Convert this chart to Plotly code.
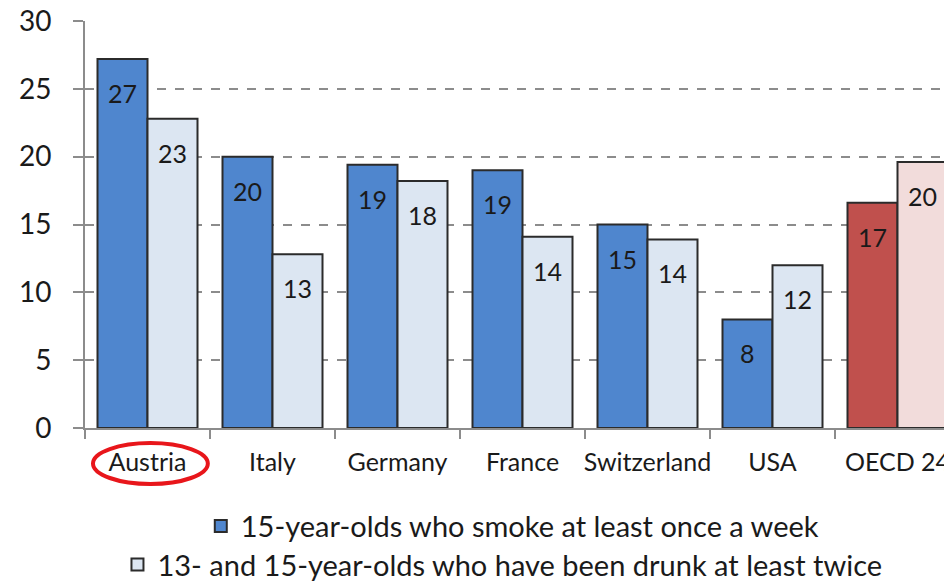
import plotly.graph_objects as go

categories = ["Austria", "Italy", "Germany", "France", "Switzerland", "USA", "OECD 24"]
smoke = [27.2, 20.0, 19.4, 19.0, 15.0, 8.0, 16.6]
drunk = [22.8, 12.8, 18.2, 14.1, 13.9, 12.0, 19.6]
smoke_name = "15-year-olds who smoke at least once a week"
drunk_name = "13- and 15-year-olds who have been drunk at least twice"
y_ticks = [0, 5, 10, 15, 20, 25, 30]

blue, light = "#4F86CE", "#DCE6F2"
red, pink = "#C0504D", "#F2DCDB"
smoke_colors = [blue] * 6 + [red]
drunk_colors = [light] * 6 + [pink]
outline = dict(color="#2b2b2b", width=2)
FONT = "Lato"
TXT = "#1a1a1a"

fig = go.Figure()
fig.add_bar(x=categories, y=smoke, name=smoke_name, legend="legend", showlegend=True,
            marker=dict(color=smoke_colors, line=outline))
fig.add_bar(x=categories, y=drunk, name=drunk_name, legend="legend2", showlegend=True,
            marker=dict(color=drunk_colors, line=outline))

for series, shift in ((smoke, -25), (drunk, 25)):
    for c, v in zip(categories, series):
        fig.add_annotation(x=c, y=v, xref="x", yref="y", text=f"{round(v)}",
                           showarrow=False, xshift=shift, yshift=-34,
                           yanchor="middle", font=dict(family=FONT, size=25, color=TXT))

# red ellipse around Austria
fig.add_shape(type="circle", xref="paper", yref="paper",
              x0=0.0093, x1=0.143, y0=-0.1376, y1=-0.0369,
              line=dict(color="#E8161B", width=4))

fig.update_layout(
    width=944, height=583,
    margin=dict(l=85, r=0, t=21, b=155, autoexpand=False),
    paper_bgcolor="white", plot_bgcolor="white",
    barmode="group", bargap=0.2, bargroupgap=0,
    font=dict(family=FONT, color=TXT),
    legend=dict(x=0.498, y=-0.241, xanchor="center", yanchor="middle",
                font=dict(family=FONT, size=29, color=TXT), bgcolor="rgba(0,0,0,0)"),
    legend2=dict(x=0.486, y=-0.336, xanchor="center", yanchor="middle",
                 font=dict(family=FONT, size=29, color=TXT), bgcolor="rgba(0,0,0,0)"),
    xaxis=dict(type="category", range=[-0.5, -0.5 + 859 / 125], automargin=False,
               showline=True, linecolor="#8c8c8c", linewidth=2, tickangle=0,
               ticks="outside", tickson="boundaries", ticklen=9, tickcolor="#8c8c8c", tickwidth=2,
               tickfont=dict(family=FONT, size=25, color=TXT),
               ticklabelstandoff=11, showgrid=False),
    yaxis=dict(range=[0, 30], tickvals=y_ticks, automargin=False,
               showline=True, linecolor="#8c8c8c", linewidth=2,
               ticks="outside", ticklen=10, tickcolor="#8c8c8c", tickwidth=2,
               tickfont=dict(family=FONT, size=28, color=TXT),
               ticklabelstandoff=16,
               showgrid=True, gridcolor="#8c8c8c", gridwidth=1.5, griddash="dash",
               zeroline=False),
)

fig.write_html("out.html", config={"displayModeBar": False},
               post_script="document.body.style.margin='0';document.body.style.overflow='hidden';")
